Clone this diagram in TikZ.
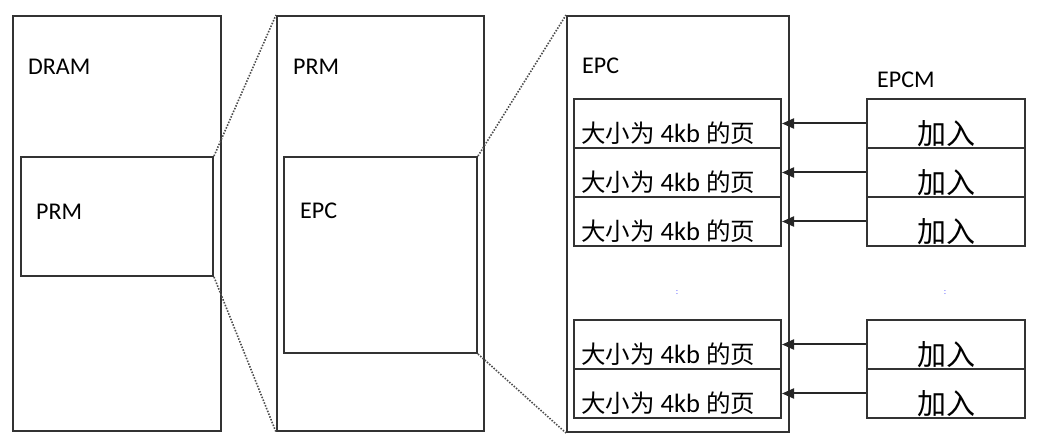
\documentclass[tikz,border=0pt]{standalone}
\usepackage{fontspec}
\setmainfont{Carlito}
\newfontfamily\cjk{Noto Sans CJK SC}
\usetikzlibrary{arrows.meta}
\begin{document}
\begin{tikzpicture}[x=1pt,y=-1pt,
  box/.style={draw=black!80,line width=2pt,inner sep=0pt,rectangle},
  lbl/.style={anchor=west,inner sep=0pt,font=\fontsize{24}{26}\selectfont},
  pagetxt/.style={anchor=west,inner sep=0pt,font=\fontsize{26.5}{28}\selectfont},
  jrtxt/.style={inner sep=0pt,font=\cjk\fontsize{29}{30}\selectfont},
  zoomline/.style={draw=black!70,line width=1.6pt,dash pattern=on 1.5pt off 1.5pt},
  ptr/.style={draw=black!85,line width=2pt,-{Triangle[length=12pt,width=10pt]}},
  vdots/.style={inner sep=0pt,text=blue!60,font=\fontsize{9}{9}\selectfont}]
\useasboundingbox (0,0) rectangle (1045,438);
% big boxes
\node[box,minimum width=208,minimum height=415] (dram) at (117,223.5) {};
\node[box,minimum width=192,minimum height=119] (prmA) at (117,216.5) {};
\node[box,minimum width=207,minimum height=415] (prm) at (380.5,223.5) {};
\node[box,minimum width=193,minimum height=196] (epcA) at (380.5,255) {};
\node[box,minimum width=222,minimum height=416] (epc) at (678,224) {};
% zoom lines
\draw[zoomline] (prmA.north east) -- (prm.north west);
\draw[zoomline] (prmA.south east) -- (prm.south west);
\draw[zoomline] (epcA.north east) -- (epc.north west);
\draw[zoomline] (epcA.south east) -- (epc.south west);
% labels
\node[lbl] (tdram) at (28,67) {DRAM};
\node[lbl] (tprmA) at (36,212) {PRM};
\node[lbl] (tprm) at (293,67) {PRM};
\node[lbl] (tepcA) at (300,211) {EPC};
\node[lbl] (tepc) at (582,66) {EPC};
\node[lbl] (tepcm) at (877,80) {EPCM};
% page boxes
\foreach \i/\y in {1/123.5,2/172.5,3/221.5,4/344.5,5/393.5}{
  \node[box,minimum width=207,minimum height=49] (p\i) at (677.5,\y) {};
  \node[box,minimum width=158,minimum height=49] (m\i) at (946,\y) {};
  \node[pagetxt] (pt\i) at (581,\y+10) {{\cjk\fontsize{24.5}{26}\selectfont 大小为} 4kb {\cjk\fontsize{24.5}{26}\selectfont 的页}};
  \node[jrtxt] (mt\i) at (946,\y+10) {加入};
  \draw[ptr] (m\i.west) -- (p\i.east);
}
\node[vdots] (d1) at (677,293) {:};
\node[vdots] (d2) at (945,293) {:};
\end{tikzpicture}
\end{document}
